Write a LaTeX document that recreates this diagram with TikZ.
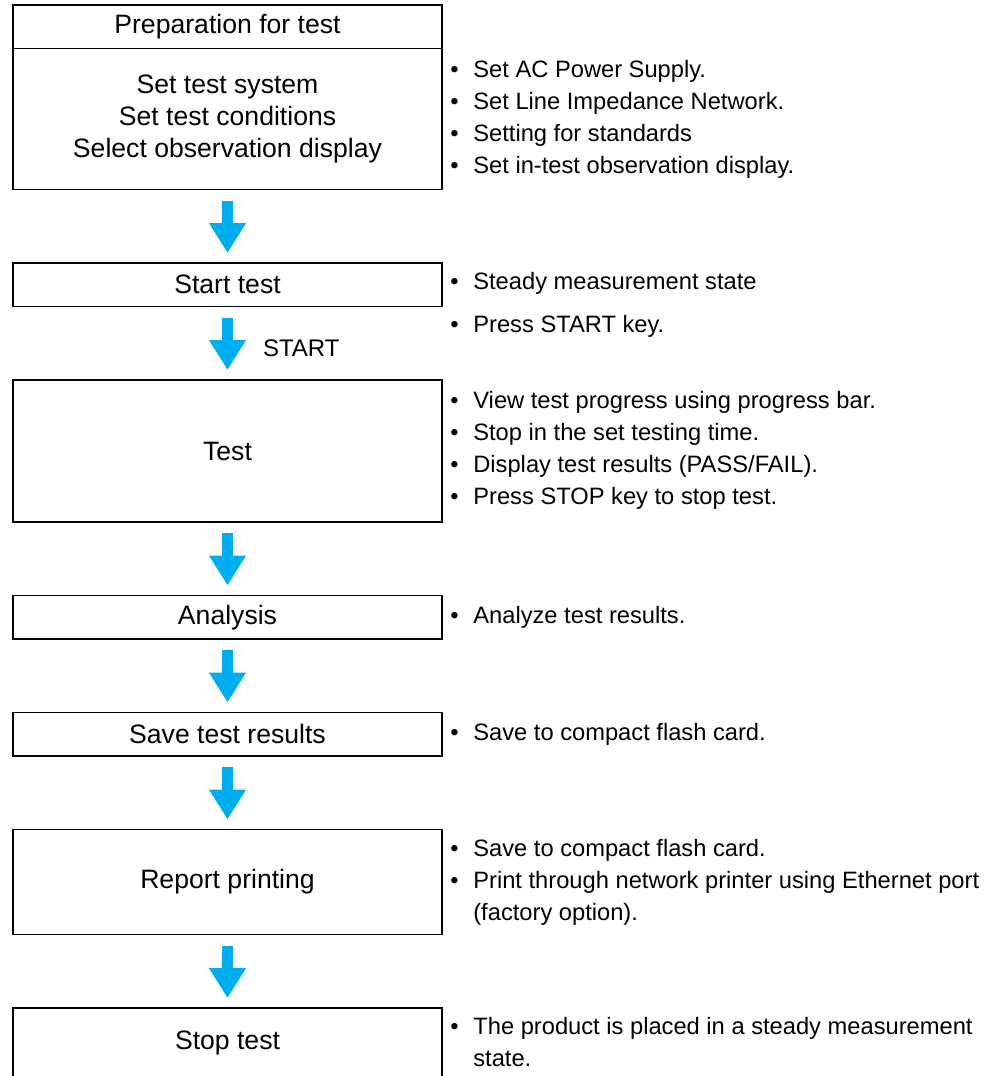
\documentclass[tikz,border=0pt]{standalone}
\usepackage{fontspec}
\setmainfont{Liberation Sans}
\usetikzlibrary{arrows.meta, positioning}
\definecolor{flowblue}{RGB}{0,174,239}
\newcommand{\bul}{\makebox[23pt][l]{\textbullet}}
\newcommand{\nobul}{\hspace*{23pt}}

\begin{document}
\begin{tikzpicture}[x=1pt, y=-1pt,
    stage/.style={rectangle, draw, line width=1.7pt, outer sep=0pt, inner sep=0pt,
                  minimum width=429.3pt, minimum height=43.5pt, align=center,
                  font=\fontsize{26.6}{32}\selectfont},
    note/.style={anchor=west, inner sep=0pt, align=left,
                 font=\fontsize{23.7}{32}\selectfont},
    flow/.style={flowblue, line width=11pt, -{Triangle[length=30pt, width=35pt]},
                 shorten <=11pt, shorten >=10pt},
    node distance=73.5pt]

    \useasboundingbox (0,0) rectangle (998,1076);
    \clip (0,0) rectangle (998,1076);

    % Stages
    \node[stage] (prephead) at (227.5, 26.75) {Preparation for test};
    \node[stage, minimum height=141pt, below=0pt of prephead] (prep)
        {Set test system\\Set test conditions\\Select observation display};
    \node[stage, below=of prep] (start) {Start test};
    \node[stage, minimum height=142pt, below=of start] (test) {Test};
    \node[stage, below=of test] (analysis) {Analysis};
    \node[stage, below=of analysis] (save) {Save test results};
    \node[stage, minimum height=105pt, below=of save] (report) {Report printing};
    \node[stage, minimum height=69pt, below=of report] (stop) {Stop test};

    % Flow arrows
    \draw[flow] (prep) -- (start);
    \draw[flow] (start) -- node[pos=0.57, anchor=west, inner sep=0pt, xshift=30pt,
        text=black, font=\fontsize{24}{28}\selectfont] (startlbl) {START} (test);
    \draw[flow] (test) -- (analysis);
    \draw[flow] (analysis) -- (save);
    \draw[flow] (save) -- (report);
    \draw[flow] (report) -- (stop);

    % Notes beside the stages
    \node[note] (prepnote) at ([xshift=8pt]prep.east)
        {\bul Set AC Power Supply.\\\bul Set Line Impedance Network.\\
         \bul Setting for standards\\\bul Set in-test observation display.};
    \node[note] (steadynote) at ([xshift=8pt, yshift=1.5pt]start.east)
        {\bul Steady measurement state};
    \node[note] (keynote) at ([yshift=-43pt]steadynote.west) {\bul Press START key.};
    \node[note] (testnote) at ([xshift=8pt, yshift=1pt]test.east)
        {\bul View test progress using progress bar.\\\bul Stop in the set testing time.\\
         \bul Display test results (PASS/FAIL).\\\bul Press STOP key to stop test.};
    \node[note] (analysisnote) at ([xshift=8pt]analysis.east) {\bul Analyze test results.};
    \node[note] (savenote) at ([xshift=8pt]save.east) {\bul Save to compact flash card.};
    \node[note] (reportnote) at ([xshift=8pt]report.east)
        {\bul Save to compact flash card.\\
         \bul Print through network printer using Ethernet port\\\nobul(factory option).};
    \node[note] (stopnote) at ([xshift=8pt]stop.east)
        {\bul The product is placed in a steady measurement\\\nobul state.};
\end{tikzpicture}
\end{document}
